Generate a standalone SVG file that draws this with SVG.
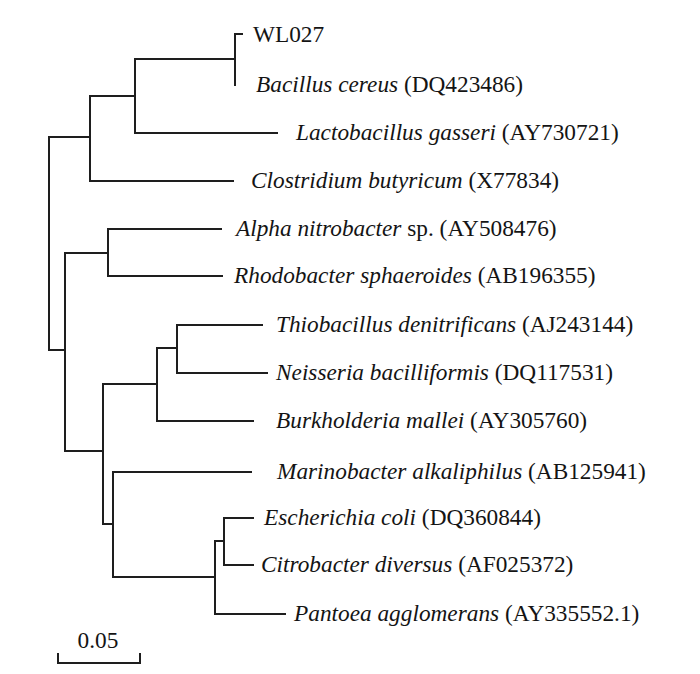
<svg xmlns="http://www.w3.org/2000/svg" width="700" height="674" viewBox="0 0 700 674">
<style>
.br{fill:none;stroke:#1e1e1e;stroke-width:2;stroke-linecap:square}
text{font-family:"Liberation Serif","Times New Roman",serif;font-size:23.3px;fill:#141414}
.i{font-style:italic}
</style>
<rect width="700" height="674" fill="#ffffff"/>
<g id="connectors" class="br">
<path d="M49,137V350M49,137H90M49,350H65"/>
<path d="M90,96V181M90,96H135M90,181H233"/>
<path d="M135,59V133M135,59H235M135,133H277"/>
<path d="M235,34V85M235,34H242"/>
<path d="M65,253V451M65,253H108M65,451H103"/>
<path d="M108,229V276M108,229H221M108,276H222"/>
<path d="M103,384V524M103,384H157M103,524H113"/>
<path d="M157,348V421M157,348H177M157,421H253"/>
<path d="M177,325V373M177,325H262M177,373H267"/>
<path d="M113,472V577M113,472H251M113,577H215"/>
<path d="M215,541V614M215,541H224M215,614H285"/>
<path d="M224,518V565M224,518H253M224,565H253"/>
</g>
<g id="n-wl027"><text x="253" y="42">WL027</text></g>
<g id="n-bacillus"><text x="256" y="92"><tspan class="i">Bacillus cereus</tspan> (DQ423486)</text></g>
<g id="n-lactobacillus"><text x="296" y="140"><tspan class="i">Lactobacillus gasseri</tspan> (AY730721)</text></g>
<g id="n-clostridium"><text x="251" y="188"><tspan class="i">Clostridium butyricum</tspan> (X77834)</text></g>
<g id="n-alpha"><text x="236" y="236"><tspan class="i">Alpha nitrobacter</tspan> sp. (AY508476)</text></g>
<g id="n-rhodobacter"><text x="234" y="283"><tspan class="i">Rhodobacter sphaeroides</tspan> (AB196355)</text></g>
<g id="n-thiobacillus"><text x="276" y="332"><tspan class="i">Thiobacillus denitrificans</tspan> (AJ243144)</text></g>
<g id="n-neisseria"><text x="276" y="380"><tspan class="i">Neisseria bacilliformis</tspan> (DQ117531)</text></g>
<g id="n-burkholderia"><text x="276" y="428"><tspan class="i">Burkholderia mallei</tspan> (AY305760)</text></g>
<g id="n-marinobacter"><text x="277" y="479"><tspan class="i">Marinobacter alkaliphilus</tspan> (AB125941)</text></g>
<g id="n-escherichia"><text x="264" y="525"><tspan class="i">Escherichia coli</tspan> (DQ360844)</text></g>
<g id="n-citrobacter"><text x="261" y="572"><tspan class="i">Citrobacter diversus</tspan> (AF025372)</text></g>
<g id="n-pantoea"><text x="294" y="621"><tspan class="i">Pantoea agglomerans</tspan> (AY335552.1)</text></g>
<g id="scale-bar">
<path class="br" d="M58,654V663H140V654"/>
<text x="98" y="648" text-anchor="middle">0.05</text>
</g>
</svg>
